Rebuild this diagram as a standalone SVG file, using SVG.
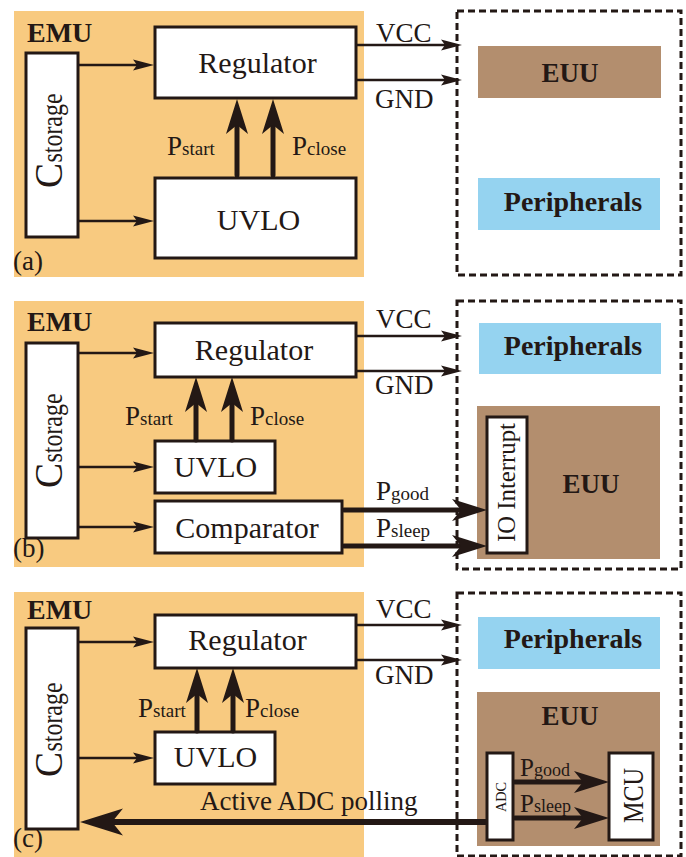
<svg xmlns="http://www.w3.org/2000/svg" width="686" height="857" viewBox="0 0 686 857">
<style>
.bg{fill:#F8CA80}
.box{fill:#fff;stroke:#231815;stroke-width:3}
.dash{fill:none;stroke:#231815;stroke-width:3;stroke-dasharray:7 4}
.euu{fill:#B38E6E}
.per{fill:#95D3F0}
text{font-family:"Liberation Serif","Times New Roman",serif;fill:#231815}
.b{font-weight:bold}
.m{font-size:30px;text-anchor:middle}
.lbl{font-size:27px}
.sub{font-size:19px}
.thin{stroke:#231815;stroke-width:2.5;fill:none;marker-end:url(#ah)}
.thick{stroke:#231815;stroke-width:5;fill:none;stroke-linecap:round;marker-end:url(#ahB)}
</style>
<defs>
<marker id="ah" markerUnits="userSpaceOnUse" markerWidth="22" markerHeight="12" refX="13" refY="6" orient="auto"><path d="M0,0.5 L21,6 L0,11.5 L4,6z" fill="#231815"/></marker>
<marker id="ahB" markerUnits="userSpaceOnUse" markerWidth="36" markerHeight="22" refX="23" refY="11" orient="auto"><path d="M0,0 L35,11 L0,22 L9,11z" fill="#231815"/></marker>
<marker id="ahL" markerUnits="userSpaceOnUse" markerWidth="44" markerHeight="28" refX="29" refY="13.5" orient="auto"><path d="M0,0 L43,13.5 L0,27 L11,13.5z" fill="#231815"/></marker>
</defs>

<!-- Panel (a) -->
<g id="panel-a">
<rect class="bg" x="14" y="11" width="350" height="266"/>
<rect class="dash" x="457" y="11" width="224" height="264"/>
<text class="b" x="27" y="42" font-size="28">EMU</text>
<text x="13" y="270" font-size="27">(a)</text>
<text class="lbl" x="376" y="42">VCC</text>
<text class="lbl" x="375" y="108">GND</text>
<text class="lbl" x="167" y="155">P<tspan class="sub">start</tspan></text>
<text class="lbl" x="292" y="155">P<tspan class="sub">close</tspan></text>
</g>
<g id="a-euu"><rect class="euu" x="478" y="46" width="183" height="52"/><text class="b" x="570" y="82" font-size="27" text-anchor="middle">EUU</text></g>
<g id="a-peripherals"><rect class="per" x="478" y="178" width="182" height="52"/><text class="b" x="573" y="211" font-size="28" text-anchor="middle">Peripherals</text></g>
<g id="a-cstorage"><rect class="box" x="26" y="53" width="52" height="184"/>
<g transform="translate(62,188) rotate(-90)"><text x="0" y="0" font-size="40" textLength="25" lengthAdjust="spacingAndGlyphs">C</text><text x="25.5" y="0" font-size="30" textLength="69" lengthAdjust="spacingAndGlyphs">storage</text></g></g>
<g id="a-regulator"><rect class="box" x="155" y="27" width="201" height="71"/><text class="m" x="257.5" y="73">Regulator</text></g>
<g id="a-uvlo"><rect class="box" x="155" y="178" width="201" height="80"/><text class="m" x="258.5" y="230">UVLO</text></g>

<!-- Panel (b) -->
<g id="panel-b">
<rect class="bg" x="14" y="301" width="350" height="266"/>
<rect class="dash" x="457" y="301" width="224" height="268"/>
<text class="b" x="27" y="331" font-size="28">EMU</text>
<text x="13" y="557" font-size="27">(b)</text>
<text class="lbl" x="376" y="328">VCC</text>
<text class="lbl" x="375" y="394">GND</text>
<text class="lbl" x="125" y="425">P<tspan class="sub">start</tspan></text>
<text class="lbl" x="250" y="425">P<tspan class="sub">close</tspan></text>
<text class="lbl" x="376" y="500">P<tspan class="sub">good</tspan></text>
<text class="lbl" x="376" y="537">P<tspan class="sub">sleep</tspan></text>
</g>
<g id="b-peripherals"><rect class="per" x="479" y="323" width="182" height="51"/><text class="b" x="573" y="355" font-size="28" text-anchor="middle">Peripherals</text></g>
<g id="b-euu"><rect class="euu" x="477" y="406" width="183" height="153"/><text class="b" x="591" y="493" font-size="27" text-anchor="middle">EUU</text></g>
<g id="b-io"><rect class="box" x="487" y="417" width="40" height="136"/>
<g transform="translate(515,542) rotate(-90)"><text x="0" y="0" font-size="26" textLength="119" lengthAdjust="spacingAndGlyphs">IO Interrupt</text></g></g>
<g id="b-cstorage"><rect class="box" x="26" y="343" width="52" height="195"/>
<g transform="translate(62,488) rotate(-90)"><text x="0" y="0" font-size="40" textLength="25" lengthAdjust="spacingAndGlyphs">C</text><text x="25.5" y="0" font-size="30" textLength="69" lengthAdjust="spacingAndGlyphs">storage</text></g></g>
<g id="b-regulator"><rect class="box" x="155" y="323" width="201" height="54"/><text class="m" x="254" y="360">Regulator</text></g>
<g id="b-uvlo"><rect class="box" x="155" y="441" width="120" height="52"/><text class="m" x="215.5" y="477">UVLO</text></g>
<g id="b-comparator"><rect class="box" x="155" y="501" width="187" height="52"/><text class="m" x="247" y="538">Comparator</text></g>

<!-- Panel (c) -->
<g id="panel-c">
<rect class="bg" x="14" y="592" width="350" height="265"/>
<rect class="dash" x="457" y="593" width="224" height="263"/>
<text class="b" x="27" y="619" font-size="28">EMU</text>
<text x="13" y="847" font-size="27">(c)</text>
<text class="lbl" x="376" y="618">VCC</text>
<text class="lbl" x="375" y="684">GND</text>
<text class="lbl" x="138" y="717">P<tspan class="sub">start</tspan></text>
<text class="lbl" x="245" y="717">P<tspan class="sub">close</tspan></text>
<text class="lbl" x="200" y="810">Active ADC polling</text>
</g>
<g id="c-peripherals"><rect class="per" x="478" y="617" width="182" height="52"/><text class="b" x="573" y="648" font-size="28" text-anchor="middle">Peripherals</text></g>
<g id="c-euu"><rect class="euu" x="477" y="692" width="183" height="154"/><text class="b" x="570" y="725" font-size="27" text-anchor="middle">EUU</text></g>
<g id="c-adc"><rect class="box" x="487" y="753" width="26" height="87"/>
<g transform="translate(505.5,812) rotate(-90)"><text x="0" y="0" font-size="14" textLength="30" lengthAdjust="spacingAndGlyphs">ADC</text></g></g>
<g id="c-mcu"><rect class="box" x="609" y="753" width="44" height="87"/>
<g transform="translate(643,823) rotate(-90)"><text x="0" y="0" font-size="30" textLength="55" lengthAdjust="spacingAndGlyphs">MCU</text></g></g>
<g id="c-cstorage"><rect class="box" x="26" y="628" width="52" height="201"/>
<g transform="translate(62,777) rotate(-90)"><text x="0" y="0" font-size="40" textLength="25" lengthAdjust="spacingAndGlyphs">C</text><text x="25.5" y="0" font-size="30" textLength="69" lengthAdjust="spacingAndGlyphs">storage</text></g></g>
<g id="c-regulator"><rect class="box" x="155" y="615" width="201" height="53"/><text class="m" x="247.5" y="650">Regulator</text></g>
<g id="c-uvlo"><rect class="box" x="155" y="732" width="120" height="52"/><text class="m" x="215.5" y="767">UVLO</text></g>

<g id="connectors">
<!-- (a) -->
<line class="thin" x1="78" y1="65" x2="146" y2="65"/>
<line class="thin" x1="78" y1="221" x2="146" y2="221"/>
<line class="thin" x1="356" y1="45" x2="454" y2="45"/>
<line class="thin" x1="356" y1="80" x2="454" y2="80"/>
<line class="thick" x1="237" y1="175" x2="237" y2="111"/>
<line class="thick" x1="273" y1="175" x2="273" y2="111"/>
<!-- (b) -->
<line class="thin" x1="78" y1="353" x2="146" y2="353"/>
<line class="thin" x1="78" y1="467" x2="146" y2="467"/>
<line class="thin" x1="78" y1="527" x2="146" y2="527"/>
<line class="thin" x1="356" y1="336" x2="454" y2="336"/>
<line class="thin" x1="356" y1="371" x2="454" y2="371"/>
<line class="thick" x1="196" y1="440" x2="196" y2="389"/>
<line class="thick" x1="232" y1="440" x2="232" y2="389"/>
<line class="thick" x1="344" y1="510" x2="475" y2="510"/>
<line class="thick" x1="344" y1="546" x2="475" y2="546"/>
<!-- (c) -->
<line class="thin" x1="78" y1="642" x2="146" y2="642"/>
<line class="thin" x1="78" y1="758" x2="146" y2="758"/>
<line class="thin" x1="356" y1="625" x2="454" y2="625"/>
<line class="thin" x1="356" y1="660" x2="454" y2="660"/>
<line class="thick" x1="197" y1="731" x2="197" y2="680"/>
<line class="thick" x1="233" y1="731" x2="233" y2="680"/>
<line class="thick" x1="515" y1="782" x2="597" y2="782"/>
<line class="thick" x1="515" y1="818" x2="597" y2="818"/>
<line x1="487" y1="822" x2="94" y2="822" stroke="#231815" stroke-width="6" marker-end="url(#ahL)"/>
<text x="520" y="776" font-size="25">P<tspan font-size="18">good</tspan></text>
<text x="520" y="812" font-size="25">P<tspan font-size="18">sleep</tspan></text>
</g>
</svg>
